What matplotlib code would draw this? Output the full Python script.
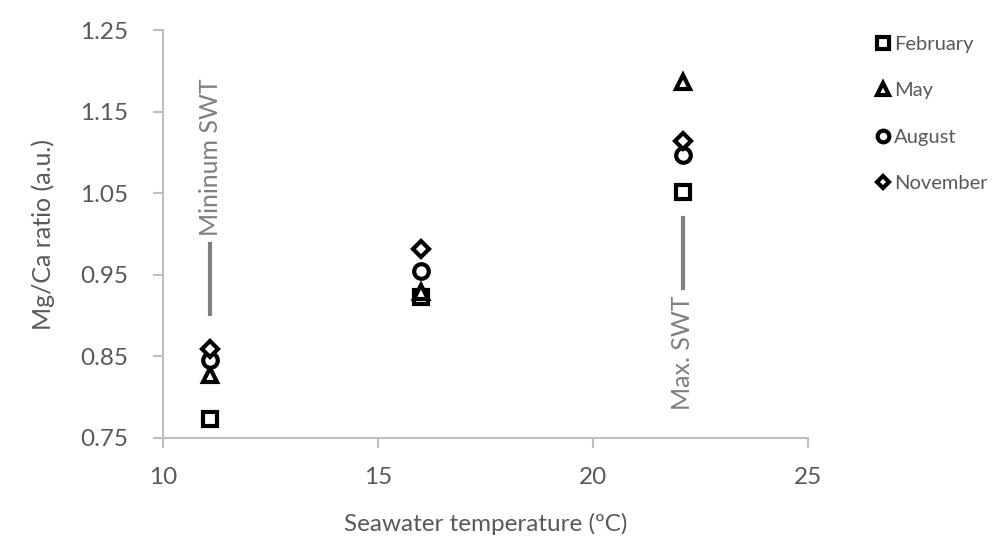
import matplotlib.pyplot as plt

plt.rcParams['font.family'] = ['Lato', 'DejaVu Sans']

temps = [11.1, 16.0, 22.1]
february = [0.773, 0.923, 1.051]
may = [0.827, 0.929, 1.186]
august = [0.845, 0.955, 1.097]
november = [0.859, 0.982, 1.114]

series = [('February', february, 's', 10.5),
          ('May', may, '^', 10.5),
          ('August', august, 'o', 10.5),
          ('November', november, 'D', 8)]

gray = '#595959'
fig = plt.figure(figsize=(9.97, 5.38), dpi=100)
ax = fig.add_axes([0.1635, 0.186, 0.6465, 0.758])

for name, vals, mk, ms in series:
    ax.plot(temps, vals, linestyle='none', marker=mk, markersize=ms,
            markerfacecolor='white', markeredgecolor='black',
            markeredgewidth=3, label=name)

# reference lines for min / max seawater temperature
ax.plot([11.1, 11.1], [0.902, 0.988], color='#808080', linewidth=3)
ax.text(11.1, 0.997, 'Mininum SWT', rotation=90, ha='center', va='bottom',
        fontsize=18, color='#7f7f7f')
ax.plot([22.1, 22.1], [0.934, 1.02], color='#808080', linewidth=3)
ax.text(22.1, 0.925, 'Max. SWT', rotation=90, ha='center', va='top',
        fontsize=18, color='#7f7f7f')

ax.set_xlim(10, 25)
ax.set_ylim(0.75, 1.25)
ax.set_xticks([10, 15, 20, 25])
ax.set_yticks([0.75, 0.85, 0.95, 1.05, 1.15, 1.25])
ax.set_yticklabels(['0.75', '0.85', '0.95', '1.05', '1.15', '1.25'])
ax.set_xlabel('Seawater temperature (ºC)', fontsize=17.5, color=gray, labelpad=18)
ax.set_ylabel('Mg/Ca ratio (a.u.)', fontsize=18, color=gray, labelpad=18)

for s in ['top', 'right']:
    ax.spines[s].set_visible(False)
for s in ['left', 'bottom']:
    ax.spines[s].set_color('#bfbfbf')
    ax.spines[s].set_linewidth(1.5)
ax.tick_params(colors='#bfbfbf', labelcolor=gray, labelsize=17.5, length=7, width=1.5)
ax.tick_params(axis='y', pad=18)
ax.tick_params(axis='x', pad=14)

leg = ax.legend(loc='upper left', bbox_to_anchor=(1.08, 1.03), frameon=False,
                fontsize=14.5, labelcolor=gray, handlelength=0.6, handletextpad=0.25,
                labelspacing=1.45, markerscale=0.8)

fig.savefig('out.png', dpi=100)
